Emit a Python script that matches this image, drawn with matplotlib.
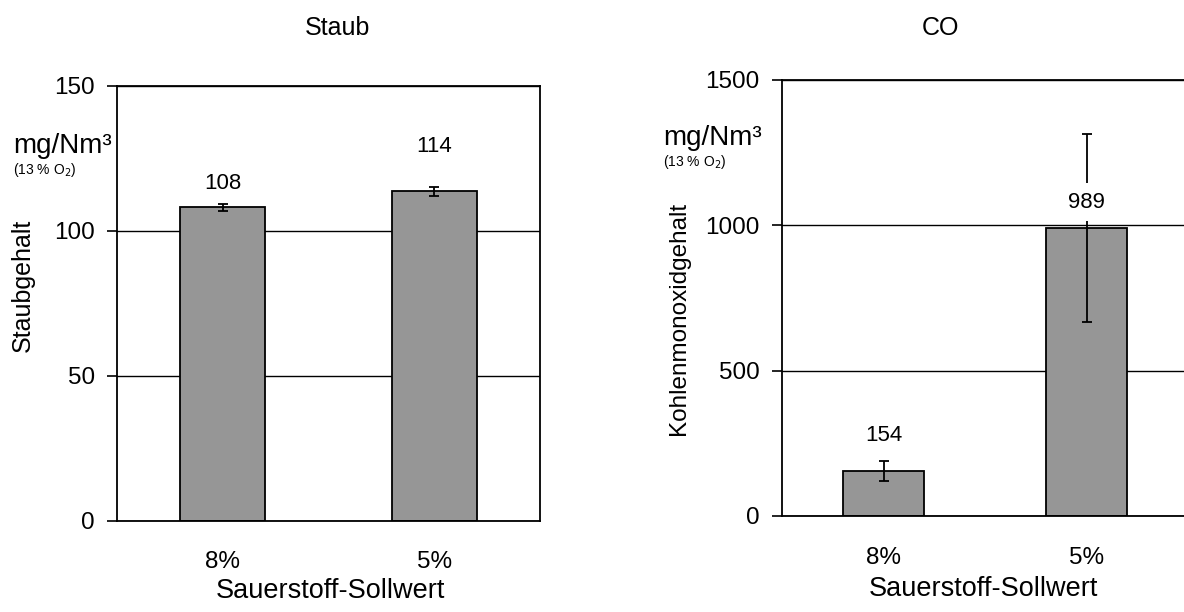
import matplotlib
matplotlib.use("Agg")
import matplotlib.pyplot as plt

plt.rcParams['font.family'] = ['Liberation Sans', 'DejaVu Sans']

categories = ["8%", "5%"]
staub_values = [108, 113.6]
staub_err = [1.1, 1.6]
staub_labels = ["108", "114"]
staub_label_offset = [8.3, 15.6]

co_values = [154, 989]
co_err = [34, 322]
co_labels = ["154", "989"]
co_label_offset = [121, 90]

bar_color = "#969696"

fig = plt.figure(figsize=(11.84, 6.12), dpi=100)

W, H = 1184, 612

def ax_rect(x0, x1, ytop, ybot):
    return [x0 / W, (H - ybot) / H, (x1 - x0) / W, (ybot - ytop) / H]

ax1 = fig.add_axes(ax_rect(117, 540, 85.7, 520.7))
ax2 = fig.add_axes(ax_rect(782, 1188, 79.5, 516))

def style(ax, ymax, step, right_spine):
    ax.set_xlim(-0.5, 1.5)
    ax.set_ylim(0, ymax)
    ax.set_yticks(range(0, ymax + 1, step))
    ax.set_axisbelow(True)
    ax.yaxis.grid(True, color="black", linewidth=1.0)
    for s in ax.spines.values():
        s.set_linewidth(1.3)
    ax.spines['right'].set_visible(right_spine)
    ax.tick_params(axis='y', direction='out', length=7, width=1.2,
                   labelsize=17.5, pad=9)
    ax.tick_params(axis='x', length=0, labelsize=17.5, pad=22)
    ax.set_xticks(range(len(categories)))
    ax.set_xticklabels(categories)

# Staub
x = list(range(len(categories)))
ax1.bar(x, staub_values, width=0.40, color=bar_color, edgecolor="black",
        linewidth=1.3, zorder=2)
ax1.errorbar(x, staub_values, yerr=staub_err, fmt='none', ecolor='black',
             elinewidth=1.3, capsize=3.5, capthick=1.3, zorder=3)
style(ax1, 150, 50, True)
for xi, v, lab, off in zip(x, staub_values, staub_labels, staub_label_offset):
    ax1.text(xi, v + off, lab, ha='center', va='center', fontsize=16, zorder=4)

# CO
ax2.bar(x, co_values, width=0.40, color=bar_color, edgecolor="black",
        linewidth=1.3, zorder=2)
ax2.errorbar(x, co_values, yerr=co_err, fmt='none', ecolor='black',
             elinewidth=1.3, capsize=3.5, capthick=1.3, zorder=3)
style(ax2, 1500, 500, False)
for xi, v, lab, off in zip(x, co_values, co_labels, co_label_offset):
    ax2.text(xi, v + off, lab, ha='center', va='center', fontsize=16, zorder=4,
             bbox=dict(facecolor='white', edgecolor='none', pad=6))

# titles
fig.text(337 / W, 1 - 28 / H, "Staub", ha='center', va='center', fontsize=18)
fig.text(940 / W, 1 - 28 / H, "CO", ha='center', va='center', fontsize=18)

# x labels
fig.text(330 / W, 1 - 591 / H, "Sauerstoff-Sollwert", ha='center', va='center', fontsize=19.5)
fig.text(983 / W, 1 - 589 / H, "Sauerstoff-Sollwert", ha='center', va='center', fontsize=19.5)

# y labels
fig.text(23 / W, 1 - 285 / H, "Staubgehalt", ha='center', va='center',
         rotation=90, fontsize=18)
fig.text(679 / W, 1 - 318 / H, "Kohlenmonoxidgehalt", ha='center', va='center',
         rotation=90, fontsize=17.5)

# units
fig.text(13 / W, 1 - 146 / H, "mg/Nm³", ha='left', va='center', fontsize=20)
fig.text(13 / W, 1 - 170 / H, "(13 % O$_2$)", ha='left', va='center', fontsize=10)
fig.text(663 / W, 1 - 138 / H, "mg/Nm³", ha='left', va='center', fontsize=20)
fig.text(663 / W, 1 - 162 / H, "(13 % O$_2$)", ha='left', va='center', fontsize=10)

fig.savefig("out.png", dpi=100)
